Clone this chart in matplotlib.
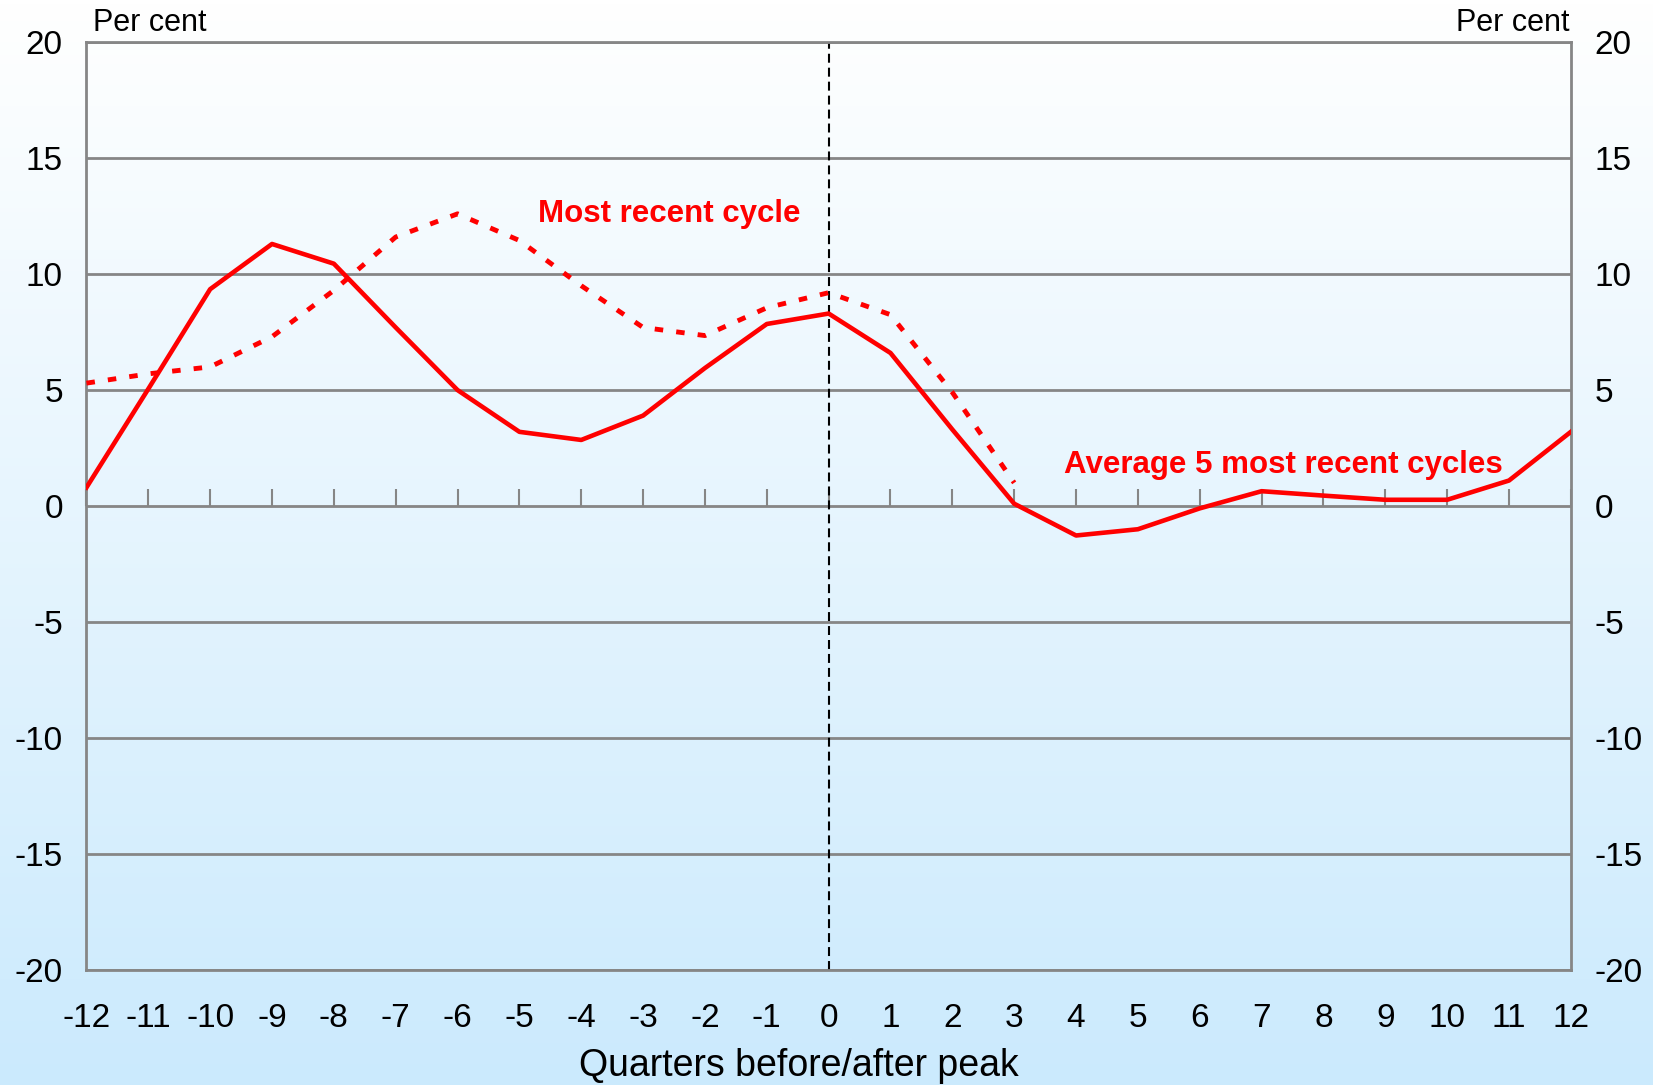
import numpy as np
import matplotlib
matplotlib.use("Agg")
import matplotlib.pyplot as plt

plt.rcParams.update({"font.family": ["Liberation Sans", "DejaVu Sans"],
                     "axes.unicode_minus": False})

quarters = list(range(-12, 13))
avg_cycles = [0.8, 5.05, 9.35, 11.3, 10.45, 7.7, 5.0, 3.2, 2.85, 3.9, 5.95, 7.85, 8.3,
              6.6, 3.3, 0.1, -1.27, -1.0, -0.1, 0.64, 0.45, 0.27, 0.27, 1.1, 3.2]
recent_q = list(range(-12, 4))
recent_cycle = [5.3, 5.7, 6.0, 7.3, 9.3, 11.6, 12.6, 11.45, 9.5, 7.7, 7.35, 8.55, 9.2,
                8.25, 4.9, 1.0]
yticks = list(range(-20, 21, 5))
RED = "#ff0000"
GRID = "#868686"

fig = plt.figure(figsize=(16.53, 10.85), dpi=100)

# background gradient, white at top to light blue at bottom
bg = fig.add_axes([0, 0, 1, 1], zorder=-10)
top = np.array([1.0, 1.0, 1.0])
bot = np.array([203, 234, 253]) / 255
t = np.linspace(0, 1, 256)[:, None]
grad = top * (1 - t) + bot * t
bg.imshow(grad[:, None, :], aspect="auto", extent=[0, 1, 0, 1])
bg.axis("off")

ax = fig.add_axes([0.0523, 0.1061, 0.8980, 0.8550])
ax.patch.set_alpha(0)
ax.set_xlim(-12, 12)
ax.set_ylim(-20, 20)
for y in yticks:
    ax.axhline(y, color=GRID, lw=2, zorder=1)
for s in ["left", "right", "bottom", "top"]:
    ax.spines[s].set_color(GRID)
    ax.spines[s].set_linewidth(2)

ax.axvline(0, color="black", lw=1.5, ls=(0, (4.3, 2.4)), zorder=2)

ax.plot(recent_q, recent_cycle, color=RED, lw=3.5, ls=(0, (1.75, 2.7)), zorder=3)
ax.plot(quarters, avg_cycles, color=RED, lw=3.3, zorder=4)

ax.set_yticks(yticks)
ax.tick_params(axis="y", length=0, labelsize=24, pad=17, labelright=True, right=False)
ax.set_xticks(quarters)
ax.tick_params(axis="x", length=0, labelsize=24, pad=24)
ax.set_xlabel("Quarters before/after peak", fontsize=27, va="center")
ax.xaxis.set_label_coords(0.480, -0.1035)

# small category ticks sitting on the zero line, pointing up
sec = ax.secondary_xaxis(0.5)
sec.set_xticks(quarters)
sec.set_xticklabels([])
sec.tick_params(direction="out", length=12, width=1.5, color=GRID)
sec.spines["bottom"].set_color(GRID)
sec.spines["bottom"].set_linewidth(2)

fig.text(0.0561, 0.979, "Per cent", fontsize=22, ha="left", va="center")
fig.text(0.9495, 0.979, "Per cent", fontsize=22, ha="right", va="center")

ax.text(-2.57, 12.6, "Most recent cycle", color=RED, fontsize=22.5, fontweight="bold",
        ha="center", va="center")
ax.text(7.35, 1.77, "Average 5 most recent cycles", color=RED, fontsize=22.5,
        fontweight="bold", ha="center", va="center")

fig.savefig("out.png", dpi=100)
